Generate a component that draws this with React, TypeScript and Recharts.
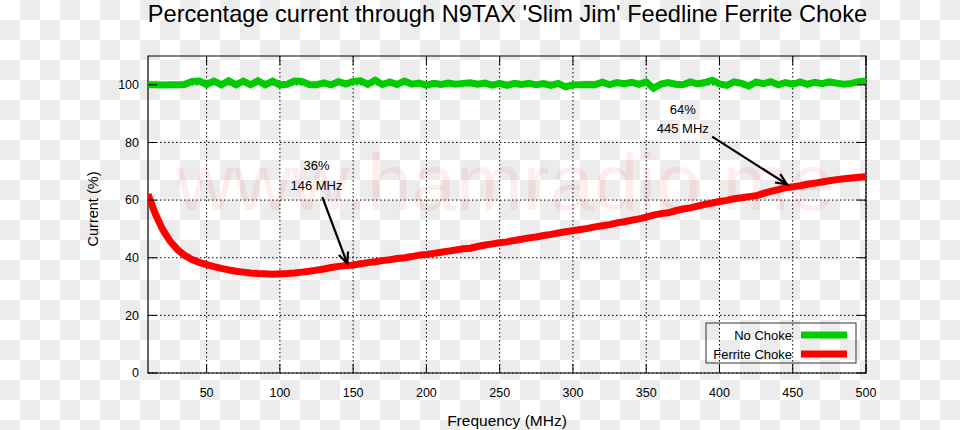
import React from 'react';
import {
  LineChart,
  Line,
  XAxis,
  YAxis,
  CartesianGrid,
  ReferenceArea,
  ReferenceLine,
  ReferenceDot,
} from 'recharts';

// frequency points (MHz)
const frequencies = [
  10, 15, 20, 25, 30, 35, 40, 45, 50, 55, 60, 65, 70, 75, 80, 85, 90, 95, 100,
  105, 110, 115, 120, 125, 130, 135, 140, 145, 150, 155, 160, 165, 170, 175, 180,
  185, 190, 195, 200, 205, 210, 215, 220, 225, 230, 235, 240, 245, 250, 255, 260,
  265, 270, 275, 280, 285, 290, 295, 300, 305, 310, 315, 320, 325, 330, 335, 340,
  345, 350, 355, 360, 365, 370, 375, 380, 385, 390, 395, 400, 405, 410, 415, 420,
  425, 430, 435, 440, 445, 450, 455, 460, 465, 470, 475, 480, 485, 490, 495, 500,
];

// current (%) without choke
const noChoke = [
  100.0, 100.0, 99.9, 100.0, 100.0, 100.1, 101.2, 101.3, 100.1, 101.3, 100.0, 101.4,
  100.0, 101.3, 100.0, 101.4, 100.0, 101.3, 100.0, 100.2, 101.3, 101.2, 100.1, 100.0,
  100.7, 100.0, 101.1, 100.3, 101.2, 101.4, 100.2, 101.6, 100.1, 101.0, 100.1, 101.3,
  100.2, 100.6, 99.9, 100.5, 100.1, 100.6, 100.2, 100.5, 100.7, 100.2, 100.6, 99.9,
  100.5, 99.8, 100.5, 100.1, 100.5, 100.0, 100.4, 99.8, 100.5, 99.3, 100.0, 100.0,
  100.1, 100.0, 100.9, 100.1, 100.8, 100.4, 100.9, 100.2, 101.0, 98.8, 100.3, 100.8,
  100.2, 100.0, 101.0, 100.3, 100.8, 101.6, 100.3, 99.8, 101.0, 100.5, 99.6, 101.0,
  100.4, 101.1, 100.0, 100.8, 100.2, 101.0, 100.2, 100.9, 100.4, 101.0, 100.6, 100.2,
  100.5, 101.1, 101.3,
];

// current (%) with ferrite choke
const ferriteChoke = [
  62.0, 55.2, 49.8, 45.8, 42.9, 40.8, 39.4, 38.4, 37.6, 36.9, 36.3, 35.8, 35.3, 35.0,
  34.7, 34.5, 34.4, 34.3, 34.4, 34.5, 34.7, 35.0, 35.3, 35.7, 36.1, 36.6, 37.0, 37.3,
  37.5, 37.9, 38.3, 38.6, 39.0, 39.3, 39.7, 40.0, 40.4, 40.9, 41.1, 41.5, 41.9, 42.3,
  42.7, 43.1, 43.3, 43.9, 44.4, 44.8, 45.2, 45.5, 46.0, 46.4, 46.9, 47.2, 47.7, 48.1,
  48.6, 49.0, 49.4, 49.8, 50.2, 50.7, 51.1, 51.5, 52.1, 52.5, 53.0, 53.5, 54.1, 54.8,
  55.3, 55.6, 56.3, 56.9, 57.3, 57.9, 58.5, 59.0, 59.5, 59.9, 60.5, 60.8, 61.2, 61.5,
  62.3, 63.0, 63.6, 64.3, 64.6, 65.0, 65.5, 65.9, 66.3, 66.7, 67.1, 67.4, 67.7, 67.9,
  68.1,
];

const xTicks = [50, 100, 150, 200, 250, 300, 350, 400, 450, 500];
const yTicks = [0, 20, 40, 60, 80, 100];

const series = [
  { key: 'noChoke', name: 'No Choke', color: '#00cc00' },
  { key: 'ferrite', name: 'Ferrite Choke', color: '#ff0000' },
];

// callouts: text lines + arrow tail/tip in chart units
const callouts = [
  { lines: ['36%', '146 MHz'], textFreq: 125, textValues: [72, 65.2], tail: [129, 61], tip: [146, 38] },
  { lines: ['64%', '445 MHz'], textFreq: 375, textValues: [91.6, 85], tail: [395, 82], tip: [446, 65.5] },
];

const data = frequencies.map((f, i) => ({
  freq: f,
  noChoke: noChoke[i],
  ferrite: ferriteChoke[i],
}));

const FONT = '"Liberation Sans", Arial, Helvetica, sans-serif';
const PLOT = { left: 148, right: 866, top: 56, bottom: 373 };
const TICK_LEN = 9;

const XTick = (props: any) => {
  const { x, payload } = props;
  return (
    <g>
      <line x1={x} x2={x} y1={PLOT.bottom} y2={PLOT.bottom - TICK_LEN} stroke="#000" />
      <line x1={x} x2={x} y1={PLOT.top} y2={PLOT.top + TICK_LEN} stroke="#000" />
      <text x={x} y={397} textAnchor="middle" fontSize={12.5} fontFamily={FONT} fill="#000">
        {payload.value}
      </text>
    </g>
  );
};

const YTick = (props: any) => {
  const { y, payload } = props;
  return (
    <g>
      <line x1={PLOT.left} x2={PLOT.left + TICK_LEN} y1={y} y2={y} stroke="#000" />
      <line x1={PLOT.right} x2={PLOT.right - TICK_LEN} y1={y} y2={y} stroke="#000" />
      <text x={139} y={y} dy="0.35em" textAnchor="end" fontSize={12.5} fontFamily={FONT} fill="#000">
        {payload.value}
      </text>
    </g>
  );
};

// arrow line with open V head
const arrowShape = (p: any) => {
  const { x1, y1, x2, y2 } = p;
  const ang = Math.atan2(y2 - y1, x2 - x1);
  const len = 12;
  const spread = 0.42;
  const ax = x2 - len * Math.cos(ang - spread);
  const ay = y2 - len * Math.sin(ang - spread);
  const bx = x2 - len * Math.cos(ang + spread);
  const by = y2 - len * Math.sin(ang + spread);
  return (
    <g>
      <line x1={x1} y1={y1} x2={x2} y2={y2} stroke="#000" strokeWidth={2.2} />
      <polyline points={`${ax},${ay} ${x2},${y2} ${bx},${by}`} fill="none" stroke="#000" strokeWidth={2.2} />
    </g>
  );
};

const checker = 'repeating-conic-gradient(#ececec 0 25%, #ffffff 0 50%) 0 0 / 40px 40px';

export default function App() {
  return (
    <div style={{ position: 'absolute', left: 0, top: 0, width: 960, height: 430, background: checker, overflow: 'hidden' }}>
      <svg width={960} height={430} style={{ position: 'absolute', left: 0, top: 0 }}>
        <text x={505} y={210} textAnchor="middle" fontSize={80} fontFamily={FONT} fill="#ff0000" fillOpacity={0.07}>
          www.hamradio.me
        </text>
        <text x={507.5} y={21.5} textAnchor="middle" fontSize={23.6} fontFamily={FONT} fill="#000">
          Percentage current through N9TAX 'Slim Jim' Feedline Ferrite Choke
        </text>
        <text x={507} y={426} textAnchor="middle" fontSize={15.5} fontFamily={FONT} fill="#000">
          Frequency (MHz)
        </text>
        <text x={98} y={209} textAnchor="middle" fontSize={14.5} fontFamily={FONT} fill="#000" transform="rotate(-90 98 209)">
          Current (%)
        </text>
      </svg>

      <div style={{ position: 'absolute', left: 0, top: 0 }}>
        <LineChart width={960} height={430} data={data} margin={{ top: PLOT.top, right: 960 - PLOT.right, bottom: 27, left: 0 }}>
          <CartesianGrid stroke="#000" strokeDasharray="1.5 2.5" horizontalValues={yTicks} verticalValues={xTicks} />
          <XAxis
            dataKey="freq"
            type="number"
            domain={[10, 500]}
            ticks={xTicks}
            interval={0}
            height={30}
            axisLine={false}
            tickLine={false}
            tick={(p: any) => <XTick {...p} />}
            allowDataOverflow
          />
          <YAxis
            type="number"
            domain={[0, 110]}
            ticks={yTicks}
            interval={0}
            width={PLOT.left}
            axisLine={false}
            tickLine={false}
            tick={(p: any) => <YTick {...p} />}
            allowDataOverflow
          />
          {series.map((s) => (
            <Line
              key={s.key}
              type="linear"
              dataKey={s.key}
              name={s.name}
              stroke={s.color}
              strokeWidth={7}
              dot={false}
              activeDot={false}
              isAnimationActive={false}
            />
          ))}
          <ReferenceArea x1={10} x2={500} y1={0} y2={110} fill="none" stroke="#000" strokeWidth={1.2} ifOverflow="visible" />
          {callouts.map((c, i) => (
            <ReferenceLine
              key={`arrow-${i}`}
              segment={[
                { x: c.tail[0], y: c.tail[1] },
                { x: c.tip[0], y: c.tip[1] },
              ]}
              shape={arrowShape}
            />
          ))}
          {callouts.flatMap((c, i) =>
            c.lines.map((line, j) => (
              <ReferenceDot
                key={`txt-${i}-${j}`}
                x={c.textFreq}
                y={c.textValues[j]}
                r={0}
                shape={(p: any) => (
                  <text x={p.cx} y={p.cy} dy="0.35em" textAnchor="middle" fontSize={13} fontFamily={FONT} fill="#000">
                    {line}
                  </text>
                )}
              />
            ))
          )}
        </LineChart>
      </div>

      {/* legend box */}
      <svg width={152} height={42} style={{ position: 'absolute', left: 705, top: 322 }}>
        <rect x={1} y={1} width={150} height={40} fill="none" stroke="#333" strokeWidth={1} />
        {series.map((s, i) => (
          <g key={s.key}>
            <text x={87} y={13 + i * 19} dy="0.35em" textAnchor="end" fontSize={13} fontFamily={FONT} fill="#000">
              {s.name}
            </text>
            <line x1={96} x2={142} y1={13 + i * 19} y2={13 + i * 19} stroke={s.color} strokeWidth={7} />
          </g>
        ))}
      </svg>
    </div>
  );
}
